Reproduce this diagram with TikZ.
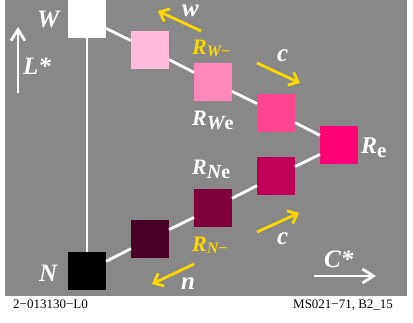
\documentclass[tikz,border=0pt]{standalone}
\usepackage{fontspec}
\setmainfont{Liberation Serif}
\usetikzlibrary{arrows.meta}
\definecolor{bg}{HTML}{888888}
\definecolor{gold}{HTML}{FFD700}
\definecolor{cA}{HTML}{FFBBD9}
\definecolor{cB}{HTML}{FF88BB}
\definecolor{cC}{HTML}{FF4490}
\definecolor{cD}{HTML}{FF0077}
\definecolor{cE}{HTML}{C00058}
\definecolor{cF}{HTML}{80003C}
\definecolor{cG}{HTML}{480024}
\newcommand{\fs}[1]{\fontsize{#1}{#1}\selectfont}
\newcommand{\RsubE}[1]{\fs{22}R\raisebox{-3.5pt}{\fs{20}#1\upshape e}}
\newcommand{\RsubM}[1]{\fs{22}R\raisebox{-2pt}{\fs{16}#1\upshape −}}
\begin{document}
\begin{tikzpicture}[x=1pt,y=-1pt,
  sq/.style={minimum size=38pt, inner sep=0pt, outer sep=0pt},
  conn/.style={draw=white, line width=2.8pt},
  yarr/.style={draw=gold, line width=2.8pt, -{Straight Barb[length=8pt,width=14pt]}},
  warr/.style={draw=white, line width=2.8pt, -{Straight Barb[length=11pt,width=14pt]}},
  lab/.style={text=white, font=\fs{25}\bfseries\itshape, inner sep=0pt, anchor=base west},
  rlab/.style={font=\bfseries\itshape, inner sep=0pt, anchor=base west},
  foot/.style={text=black, font=\fs{13}, inner sep=0pt, anchor=base west}]
\useasboundingbox (0,0) rectangle (413,323);
\fill[bg] (5,0) rectangle (407,296);
% squares
\node[sq, fill=white] (W) at (87,19) {};
\node[sq, fill=cA] (S2) at (150,50) {};
\node[sq, fill=cB] (S3) at (213,82) {};
\node[sq, fill=cC] (S4) at (276,113) {};
\node[sq, fill=cD] (Re) at (339,145) {};
\node[sq, fill=cE] (S6) at (276,176) {};
\node[sq, fill=cF] (S7) at (213,208) {};
\node[sq, fill=cG] (S8) at (150,239) {};
\node[sq, fill=black] (N) at (87,271) {};
% connectors
\draw[conn] (W) -- (N);
\draw[conn] (W) -- (S2);
\draw[conn] (S2) -- (S3);
\draw[conn] (S3) -- (S4);
\draw[conn] (S4) -- (Re);
\draw[conn] (N) -- (S8);
\draw[conn] (S8) -- (S7);
\draw[conn] (S7) -- (S6);
\draw[conn] (S6) -- (Re);
% labels
\node[lab] (lW) at (37,28) {W};
\node[lab] (lL) at (23,75) {L*};
\node[lab] (lN) at (39,282) {N};
\node[lab] (lC) at (324,268) {C*};
\node[lab, text height=12pt, text depth=0pt] (lw) at (182,17) {w};
\node[lab] (lc1) at (277,62) {c};
\node[lab] (lc2) at (277,245) {c};
\node[lab] (ln) at (181,290) {n};
\node[rlab, text=gold] (lRWm) at (192,55) {\RsubM{W}};
\node[rlab, text=white] (lRWe) at (192,126) {\RsubE{W}};
\node[rlab, text=white] (lRNe) at (192,175) {\RsubE{N}};
\node[rlab, text=gold] (lRNm) at (192,252) {\RsubM{N}};
\node[rlab, text=white] (lRe) at (361,154) {\fs{24}R\raisebox{-4pt}{\fs{21}\upshape e}};
% arrows
\coordinate (wT) at (201,31); \coordinate (wH) at (158,11);
\coordinate (c1T) at (257,63); \coordinate (c1H) at (300,83);
\coordinate (c2T) at (257,232); \coordinate (c2H) at (299,213);
\coordinate (nT) at (194,264); \coordinate (nH) at (152,284);
\coordinate (LT) at (18,93); \coordinate (LH) at (18,27);
\coordinate (CT) at (314,276); \coordinate (CH) at (376,276);
\draw[yarr] (wT) -- (wH);
\draw[yarr] (c1T) -- (c1H);
\draw[yarr] (c2T) -- (c2H);
\draw[yarr] (nT) -- (nH);
\draw[warr] (LT) -- (LH);
\draw[warr] (CT) -- (CH);
% footer
\node[foot] (f1) at (13,309) {2−013130−L0};
\node[foot] (f2) at (293,309) {MS021−71, B2\_15};
\end{tikzpicture}
\end{document}
